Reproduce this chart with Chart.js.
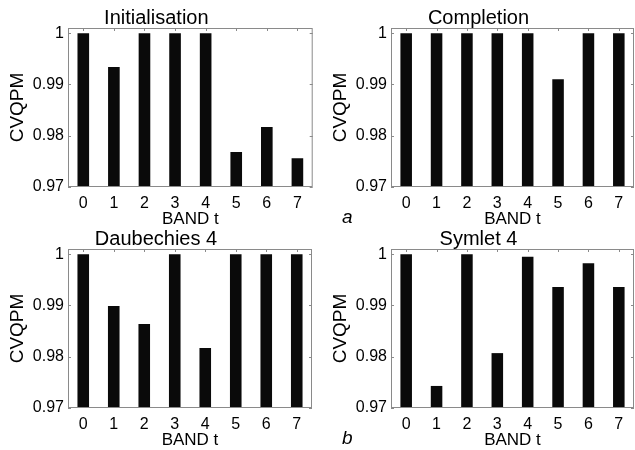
<!DOCTYPE html>
<html>
<head>
<meta charset="utf-8">
<script src="https://cdn.jsdelivr.net/npm/chart.js@4/dist/chart.umd.min.js"></script>
<style>
  body { margin: 0; background: #fff; width: 635px; height: 450px; overflow: hidden; position: relative; }
  canvas { position: absolute; }
  .tag { position: absolute; font-family: 'Liberation Sans', Arial, sans-serif; font-style: italic; font-size: 19px; line-height: 19px; color: #000; }
</style>
</head>
<body>
<canvas id="cInit" width="314" height="230" style="left:0px;top:0px"></canvas>
<canvas id="cComp" width="312" height="230" style="left:323px;top:0px"></canvas>
<canvas id="cDaub" width="314" height="230" style="left:0px;top:221px"></canvas>
<canvas id="cSym" width="312" height="230" style="left:323px;top:221px"></canvas>
<div class="tag" style="left:342px;top:207px">a</div>
<div class="tag" style="left:342px;top:428px">b</div>
<script>
// dados
const bands = ['0', '1', '2', '3', '4', '5', '6', '7'];
const initialisation = [1, 0.9934, 1, 1, 1, 0.9768, 0.9817, 0.9756];
const completion = [1, 1, 1, 1, 1, 0.9910, 1, 1];
const daubechies4 = [1, 0.9899, 0.9864, 1, 0.9817, 1, 1, 1];
const symlet4 = [1, 0.9743, 1, 0.9807, 0.9995, 0.9936, 0.9982, 0.9936];
const yTicks = [0.97, 0.98, 0.99, 1];

const fonte = "'Liberation Sans', Arial, Helvetica, sans-serif";
const corEixo = '#8a8a8a';
const corBarra = '#0a0a0a';

// caixa do eixo com marcas para dentro (estilo matlab)
const caixa = {
    id: 'caixa',
    afterDraw(chart) {
        const { ctx, chartArea: a, scales: { x, y } } = chart;
        ctx.save();
        ctx.strokeStyle = corEixo;
        ctx.lineWidth = 1;
        ctx.strokeRect(a.left + 0.5, a.top + 0.5, a.right - a.left - 1, a.bottom - a.top - 1);
        ctx.beginPath();
        y.ticks.forEach(t => {
            const py = Math.round(y.getPixelForValue(t.value)) + 0.5;
            ctx.moveTo(a.left, py); ctx.lineTo(a.left + 3, py);
            ctx.moveTo(a.right, py); ctx.lineTo(a.right - 3, py);
        });
        x.ticks.forEach((t, i) => {
            const px = Math.round(x.getPixelForTick(i)) + 0.5;
            ctx.moveTo(px, a.top); ctx.lineTo(px, a.top + 3);
        });
        ctx.stroke();
        ctx.restore();
    }
};

function grafico(id, titulo, valores, padDir) {
    new Chart(document.getElementById(id).getContext('2d'), {
        type: 'bar',
        data: {
            labels: bands,
            datasets: [{
                data: valores,
                base: 0.97,
                backgroundColor: corBarra,
                borderWidth: 0,
                barPercentage: 0.38,
                categoryPercentage: 1
            }]
        },
        options: {
            responsive: false,
            animation: false,
            layout: { padding: { top: 0, right: padDir, bottom: 0, left: 0 } },
            plugins: {
                legend: { display: false },
                tooltip: { enabled: false },
                title: {
                    display: true,
                    text: titulo,
                    color: '#000',
                    font: { family: fonte, size: 20, weight: 'normal', lineHeight: 1 },
                    padding: { top: 8, bottom: 0 }
                }
            },
            scales: {
                x: {
                    grid: { display: false, drawTicks: false },
                    border: { display: false },
                    ticks: { color: '#000', font: { family: fonte, size: 16 }, padding: 7, maxRotation: 0 },
                    title: {
                        display: true, text: 'BAND t', color: '#000',
                        font: { family: fonte, size: 17 },
                        padding: { top: 0, bottom: 0 }
                    },
                    afterFit: s => { s.height = 43; }
                },
                y: {
                    min: 0.97,
                    max: 1.001,
                    grid: { display: false, drawTicks: false },
                    border: { display: false },
                    ticks: {
                        color: '#000', font: { family: fonte, size: 16 }, padding: 4,
                        callback: v => String(+v.toFixed(2))
                    },
                    afterBuildTicks: s => { s.ticks = yTicks.map(v => ({ value: v })); },
                    title: {
                        display: true, text: 'CVQPM', color: '#000',
                        font: { family: fonte, size: 19 },
                        padding: { top: 6, bottom: 0 }
                    },
                    afterFit: s => { s.width = 68; }
                }
            }
        },
        plugins: [caixa]
    });
}

grafico('cInit', 'Initialisation', initialisation, 1.3);
grafico('cComp', 'Completion', completion, 1);
grafico('cDaub', 'Daubechies 4', daubechies4, 2);
grafico('cSym', 'Symlet 4', symlet4, 1);
</script>
</body>
</html>
